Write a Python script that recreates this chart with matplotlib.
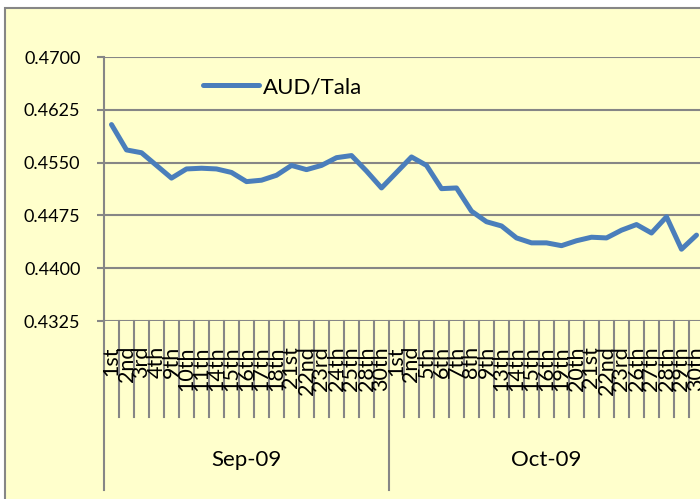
import matplotlib
matplotlib.use('Agg')
import matplotlib.pyplot as plt
from matplotlib import ticker
from matplotlib.patches import Rectangle

# trading days (Samoa holidays / tsunami days missing)
sep_days = ['1st', '2nd', '3rd', '4th', '9th', '10th', '11th', '14th', '15th', '16th',
            '17th', '18th', '21st', '22nd', '23rd', '24th', '25th', '28th', '30th']
oct_days = ['1st', '2nd', '5th', '6th', '7th', '8th', '9th', '13th', '14th', '15th',
            '16th', '19th', '20th', '21st', '22nd', '23rd', '26th', '27th', '28th', '29th', '30th']
months = ['Sep-09', 'Oct-09']
y_ticks = [0.4325, 0.4400, 0.4475, 0.4550, 0.4625, 0.4700]

sep_rate = [0.4604, 0.4568, 0.4564, 0.4546, 0.4528, 0.4541, 0.4542, 0.4541, 0.4536, 0.4523,
            0.4525, 0.4532, 0.4546, 0.4540, 0.4546, 0.4557, 0.4560, 0.4538, 0.4514]
oct_rate = [0.4536, 0.4558, 0.4546, 0.4513, 0.4514, 0.4481, 0.4466, 0.4460, 0.4443, 0.4436,
            0.4436, 0.4432, 0.4439, 0.4444, 0.4443, 0.4454, 0.4462, 0.4450, 0.4473, 0.4427,
            0.4447]

plt.rcParams['font.family'] = ['Lato', 'DejaVu Sans']
grid_col = '#868686'
line_col = '#4A7EBB'

W, H = 700, 499
fig = plt.figure(figsize=(W / 100, H / 100), dpi=100, facecolor='white')

# chart area background with border (behind the axes)
fig.patches.append(Rectangle((5 / W, 1 - 8 / H), 1.2, -1.2, transform=fig.transFigure,
                             facecolor='#FFFFCC', edgecolor=grid_col, linewidth=1.5,
                             zorder=-10))

# plot area: x 104..704 px, y 57..321 px
ax = fig.add_axes([104 / W, 1 - 321 / H, 600 / W, 264 / H])
ax.patch.set_alpha(0)

labels = sep_days + oct_days
values = sep_rate + oct_rate
x = list(range(len(values)))

line, = ax.plot(x, values, color=line_col, linewidth=3.6, solid_capstyle='round',
                solid_joinstyle='round', label='AUD/Tala')

ax.set_xlim(-0.5, len(values) - 0.5)
ax.set_ylim(y_ticks[0], y_ticks[-1])
ax.yaxis.set_major_locator(ticker.FixedLocator(y_ticks))
ax.yaxis.set_major_formatter(ticker.FormatStrFormatter('%.4f'))
ax.yaxis.grid(True, color=grid_col, linewidth=1.5)
ax.set_axisbelow(True)
ax.tick_params(axis='y', length=5, width=1.5, color=grid_col, pad=12, labelsize=13)
ax.set_xticks([])
for side in ['top', 'right', 'bottom']:
    ax.spines[side].set_visible(False)
ax.spines['left'].set_color(grid_col)
ax.spines['left'].set_linewidth(1.5)

# category ticks and labels below the axis
trans = ax.get_xaxis_transform()
for k in range(len(values) + 1):
    bottom = -0.640 if k in (0, len(sep_days)) else -0.3636
    ax.plot([k - 0.5, k - 0.5], [0, bottom], color=grid_col, linewidth=1.5,
            transform=trans, clip_on=False)
for k, lab in enumerate(labels):
    ax.text(k, -0.0947, lab, rotation=90, ha='center', va='top', fontsize=15.5,
            transform=trans)

month_pos = [(len(sep_days) - 1) / 2, len(sep_days) + (len(oct_days) - 1) / 2]
for pos, m in zip(month_pos, months):
    ax.text(pos, -0.5265, m, ha='center', va='center', fontsize=16, transform=trans)

ax.legend(loc='center left', bbox_to_anchor=(0.165, 0.886), frameon=False,
          borderpad=0, borderaxespad=0, handlelength=2.5, handletextpad=0.2,
          fontsize=16)

fig.savefig('out.png', dpi=100, facecolor='white')
